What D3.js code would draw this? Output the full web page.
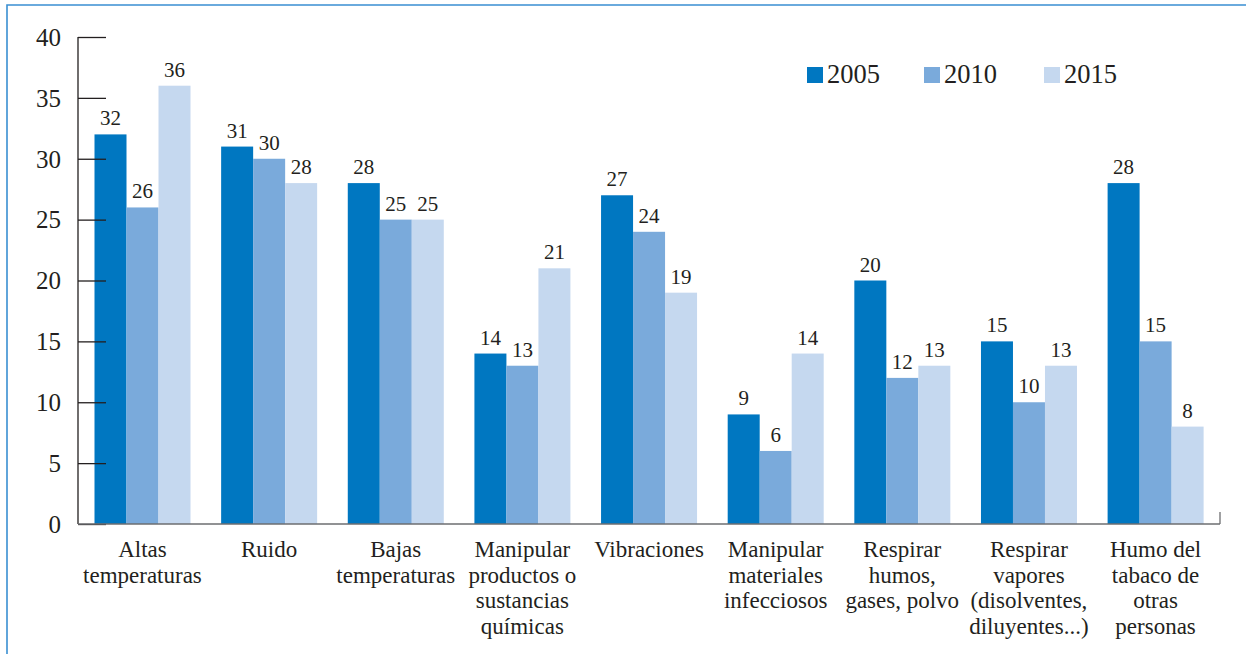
<!DOCTYPE html>
<html><head><meta charset="utf-8">
<script src="https://cdn.jsdelivr.net/npm/d3@7"></script>
<style>body{margin:0;background:#fff}svg{display:block}
svg text{font-family:"Liberation Serif","Times New Roman",serif;fill:#231f20}</style>
</head><body>
<script>
const categories = [
  ["Altas","temperaturas"],
  ["Ruido"],
  ["Bajas","temperaturas"],
  ["Manipular","productos o","sustancias","químicas"],
  ["Vibraciones"],
  ["Manipular","materiales","infecciosos"],
  ["Respirar","humos,","gases, polvo"],
  ["Respirar","vapores","(disolventes,","diluyentes...)"],
  ["Humo del","tabaco de","otras","personas"]
];
const seriesNames = ["2005","2010","2015"];
const v2005 = [32,31,28,14,27,9,20,15,28];
const v2010 = [26,30,25,13,24,6,12,10,15];
const v2015 = [36,28,25,21,19,14,13,13,8];
const yTicks = [0,5,10,15,20,25,30,35,40];
const colors = ["#0077c1","#7aaadb","#c5d8ef"];
const series = [v2005, v2010, v2015];

const W = 1246, H = 654;
const svg = d3.select("body").append("svg").attr("width", W).attr("height", H);

svg.append("path").attr("d", `M7,${H} L7,5 L${W},5`).attr("fill","none")
  .attr("stroke","#3a8fd2").attr("stroke-width",1.6);

const x0 = d3.scaleBand().domain(d3.range(categories.length)).range([78,1220]).paddingInner(0).paddingOuter(0);
const x1 = d3.scaleBand().domain(d3.range(3)).range([0,96]).padding(0);
const y = d3.scaleLinear().domain([0,40]).range([524,37]);

const groups = svg.append("g").selectAll("g").data(categories).join("g")
  .attr("transform",(d,i)=>`translate(${x0(i) + 16.5 - i*0.25},0)`);
series.forEach((s,si)=>{
  groups.append("rect")
    .attr("x", x1(si)).attr("width", x1.bandwidth())
    .attr("y",(d,i)=>y(s[i])).attr("height",(d,i)=>y(0)-y(s[i]))
    .attr("fill", colors[si]);
  groups.append("text")
    .attr("x", x1(si)+x1.bandwidth()/2).attr("y",(d,i)=>y(s[i])-9)
    .attr("text-anchor","middle").attr("font-size",21)
    .text((d,i)=>s[i]);
});

const yAxis = svg.append("g").attr("transform","translate(78,0)")
  .call(d3.axisRight(y).tickValues(yTicks).tickSize(28).tickFormat(""));
yAxis.select(".domain").remove();
yAxis.selectAll(".tick line").attr("stroke","#231f20").attr("stroke-width",1.3);
svg.append("line").attr("x1",78).attr("x2",78).attr("y1",37).attr("y2",524)
  .attr("stroke","#231f20").attr("stroke-width",1.3);
svg.append("g").selectAll("text").data(yTicks).join("text")
  .attr("x",61).attr("y",d=>y(d)).attr("dy","0.35em").attr("text-anchor","end")
  .attr("font-size",25).text(d=>d);

svg.append("line").attr("x1",78).attr("x2",1220).attr("y1",524).attr("y2",524)
  .attr("stroke","#6d6e71").attr("stroke-width",1.3);
svg.append("line").attr("x1",1220).attr("x2",1220).attr("y1",512).attr("y2",524)
  .attr("stroke","#6d6e71").attr("stroke-width",1.3);

const labs = svg.append("g").selectAll("text").data(categories).join("text")
  .attr("x",(d,i)=>x0(i)+x0.bandwidth()/2 + 1 - i*0.25).attr("y",557)
  .attr("text-anchor","middle").attr("font-size",23);
labs.selectAll("tspan").data(d=>d).join("tspan")
  .attr("x",function(){return this.parentNode.getAttribute("x");})
  .attr("dy",(d,i)=>i===0?0:25.7).text(d=>d);

const legX = [807, 924, 1044];
const leg = svg.append("g").selectAll("g").data(seriesNames).join("g")
  .attr("transform",(d,i)=>`translate(${legX[i]},67)`);
leg.append("rect").attr("width",16).attr("height",16).attr("fill",(d,i)=>colors[i]);
leg.append("text").attr("x",20).attr("y",16).attr("font-size",26.5)
  .text(d=>d);
</script>
</body></html>
